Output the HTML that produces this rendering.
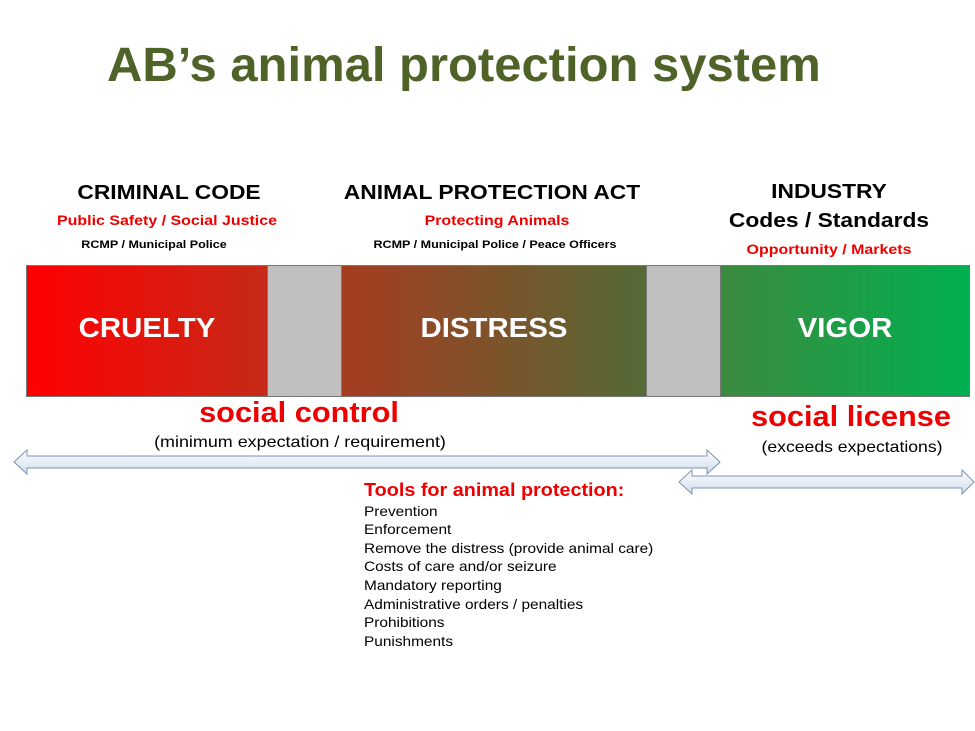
<!DOCTYPE html>
<html><head><style>
body{margin:0;width:975px;height:731px;background:#fff;position:relative;overflow:hidden;font-family:"Liberation Sans",sans-serif}
.t{position:absolute;white-space:nowrap;font-weight:bold}
.c{transform:translateX(-50%) scaleX(1.14)}
.seg{position:absolute;top:265px;height:132px;box-sizing:border-box;border:1px solid #777}
.big{position:absolute;top:46px;left:0;color:#fff;font-size:28px;font-weight:bold;width:100%;text-align:center;transform:scaleX(1.05)}
.l{position:absolute;left:364px;font-size:14px;color:#000;transform-origin:0 0;transform:scaleX(1.1);white-space:nowrap}
</style></head><body>
<div class="t" style="left:107px;top:38px;font-size:48px;color:#4f6228;transform-origin:0 0;transform:scaleX(1.02)">AB’s animal protection system</div>
<div class="t c" style="left:169px;top:182px;font-size:20px">CRIMINAL CODE</div>
<div class="t c" style="left:167px;top:212px;font-size:14px;color:#e00">Public Safety / Social Justice</div>
<div class="t c" style="left:154px;top:239px;font-size:11px">RCMP / Municipal Police</div>
<div class="t c" style="left:492px;top:182px;font-size:20px">ANIMAL PROTECTION ACT</div>
<div class="t c" style="left:497px;top:212px;font-size:14px;color:#e00">Protecting Animals</div>
<div class="t c" style="left:495px;top:239px;font-size:11px">RCMP / Municipal Police / Peace Officers</div>
<div class="t c" style="left:829px;top:181px;font-size:20px">INDUSTRY</div>
<div class="t c" style="left:829px;top:210px;font-size:20px">Codes / Standards</div>
<div class="t c" style="left:829px;top:241px;font-size:14px;color:#e00">Opportunity / Markets</div>
<div class="seg" style="left:26px;width:242px;background:linear-gradient(90deg,#ff0000,#c52a18)"><div class="big">CRUELTY</div></div>
<div class="seg" style="left:267px;width:75px;background:#c0c0c0"></div>
<div class="seg" style="left:341px;width:306px;background:linear-gradient(90deg,#a63c20,#546a36)"><div class="big">DISTRESS</div></div>
<div class="seg" style="left:646px;width:75px;background:#c0c0c0"></div>
<div class="seg" style="left:720px;width:250px;background:linear-gradient(90deg,#3c8a3e,#00b050)"><div class="big">VIGOR</div></div>
<div class="t" style="left:299px;top:397px;font-size:29px;color:#e00;transform:translateX(-50%) scaleX(1.06)">social control</div>
<div class="t" style="left:300px;top:434px;font-size:16px;font-weight:normal;transform:translateX(-50%) scaleX(1.12)">(minimum expectation / requirement)</div>
<div class="t" style="left:851px;top:401px;font-size:29px;color:#e00;transform:translateX(-50%) scaleX(1.06)">social license</div>
<div class="t" style="left:852px;top:439px;font-size:16px;font-weight:normal;transform:translateX(-50%) scaleX(1.1)">(exceeds expectations)</div>
<svg style="position:absolute;left:0;top:0" width="975" height="731">
<defs><linearGradient id="g" x1="0" y1="0" x2="0" y2="1"><stop offset="0" stop-color="#fff"/><stop offset="1" stop-color="#cfdcec"/></linearGradient></defs>
<polygon points="14,462 27,450 27,456 707,456 707,450 720,462 707,474 707,468 27,468 27,474" fill="url(#g)" stroke="#7f93b0" stroke-width="1"/>
<polygon points="679,482 692,470 692,476 962,476 962,470 974,482 962,494 962,488 692,488 692,494" fill="url(#g)" stroke="#7f93b0" stroke-width="1"/>
</svg>
<div class="t" style="left:364px;top:480px;font-size:18px;color:#e00;transform-origin:0 0;transform:scaleX(1.1)">Tools for animal protection:</div>
<div class="l" style="top:503px">Prevention</div>
<div class="l" style="top:521px">Enforcement</div>
<div class="l" style="top:540px">Remove the distress (provide animal care)</div>
<div class="l" style="top:558px">Costs of care and/or seizure</div>
<div class="l" style="top:577px">Mandatory reporting</div>
<div class="l" style="top:596px">Administrative orders / penalties</div>
<div class="l" style="top:614px">Prohibitions</div>
<div class="l" style="top:633px">Punishments</div>
</body></html>
